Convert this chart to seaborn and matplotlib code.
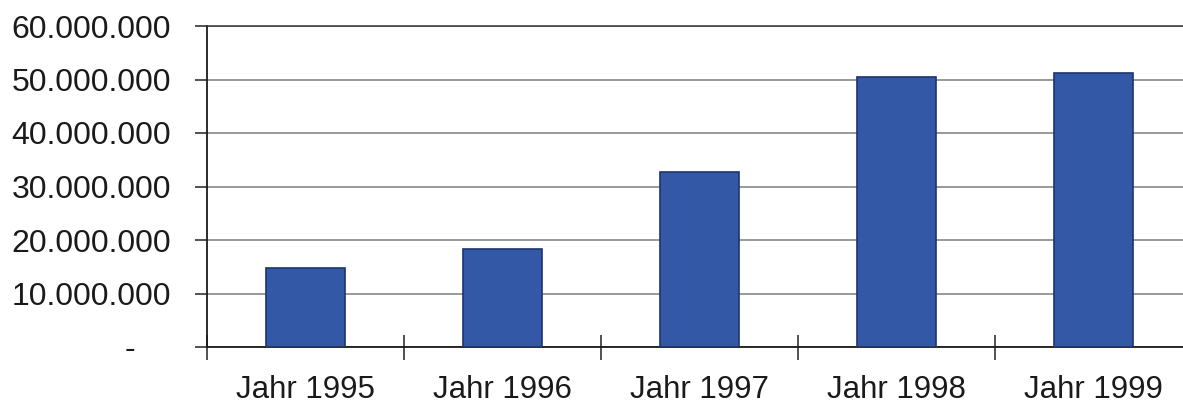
import matplotlib
matplotlib.use("Agg")
import matplotlib.pyplot as plt
from matplotlib.ticker import FixedLocator, FuncFormatter
import seaborn as sns
import pandas as pd

# Werte je Jahr
jahre = ["Jahr 1995", "Jahr 1996", "Jahr 1997", "Jahr 1998", "Jahr 1999"]
werte = [14_800_000, 18_300_000, 32_800_000, 50_500_000, 51_200_000]
y_ticks = [0, 10_000_000, 20_000_000, 30_000_000, 40_000_000, 50_000_000, 60_000_000]

sns.set_style("white")
plt.rcParams["font.family"] = ["Liberation Sans", "DejaVu Sans"]

df = pd.DataFrame({"Jahr": jahre, "Wert": werte})

fig = plt.figure(figsize=(11.83, 4.07), dpi=100)
ax = fig.add_axes([207 / 1183, 1 - 347 / 407, 985 / 1183, 321 / 407])

sns.barplot(data=df, x="Jahr", y="Wert", color="#3359a6", width=0.4,
            edgecolor="#1d3470", linewidth=1.2, saturation=1, ax=ax, zorder=3)

ax.set_xlim(-0.5, 4.5)
ax.set_ylim(0, 60_000_000)


def de_format(v, pos=None):
    if v == 0:
        return "-    "
    return f"{int(v):,}".replace(",", ".")


ax.yaxis.set_major_locator(FixedLocator(y_ticks))
ax.yaxis.set_major_formatter(FuncFormatter(de_format))
ax.yaxis.grid(True, color="#7d7d7d", linewidth=1.1, zorder=0)
ax.set_axisbelow(True)

# Kategorie-Trennstriche an der x-Achse
ax.xaxis.set_minor_locator(FixedLocator([-0.5, 0.5, 1.5, 2.5, 3.5, 4.5]))
ax.tick_params(axis="x", which="minor", bottom=True, direction="inout",
               length=18, width=1.1, color="#222222")
ax.tick_params(axis="x", which="major", bottom=True, length=0, pad=20,
               labelsize=22.5, labelcolor="#1a1a1a")
ax.tick_params(axis="y", which="major", left=True, direction="out",
               length=9, width=1.1, color="#222222", pad=17,
               labelsize=23, labelcolor="#1a1a1a")

ax.set_xlabel("")
ax.set_ylabel("")

for side in ["left", "bottom"]:
    ax.spines[side].set_visible(True)
    ax.spines[side].set_color("#1a1a1a")
    ax.spines[side].set_linewidth(1.3)
ax.spines["right"].set_visible(False)
ax.spines["top"].set_visible(True)
ax.spines["top"].set_color("#333333")
ax.spines["top"].set_linewidth(1.1)
ax.spines["top"].set_linestyle((0, (1.5, 1)))

fig.savefig("out.png", dpi=100, facecolor="white")
